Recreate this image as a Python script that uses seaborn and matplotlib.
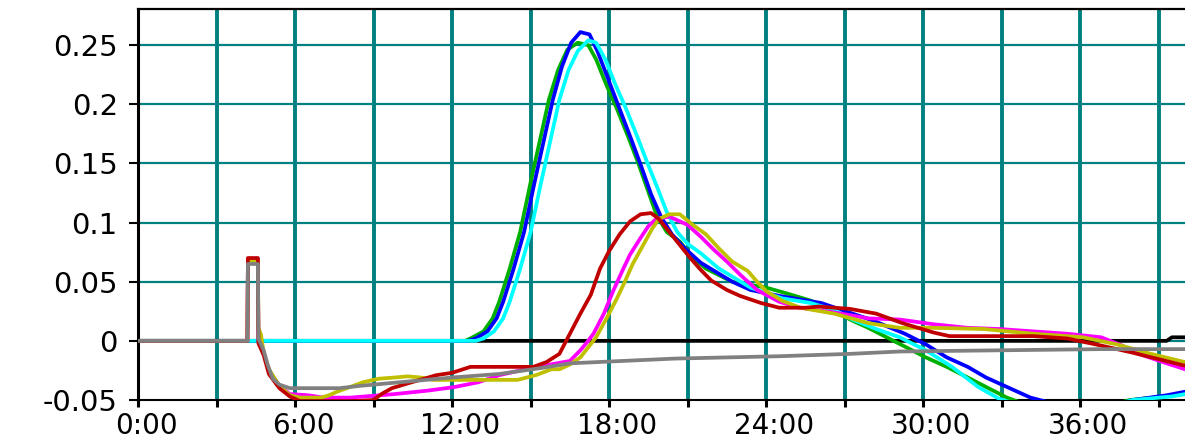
import matplotlib
matplotlib.use("Agg")
import matplotlib.pyplot as plt
import matplotlib.transforms as mtransforms
import seaborn as sns

# time in hours
black_t = [0, 39.3, 39.5, 40]
black_v = [0, 0, 0.003, 0.003]

green_t = [0, 12.5, 12.7, 13.2, 13.55, 13.8, 14.2, 14.6, 15.0, 15.4, 15.7, 16.05, 16.4, 16.8,
           17.2, 17.5, 17.9, 18.3, 18.7, 19.1, 19.45, 19.8, 20.2, 20.7, 21.2, 21.7, 22.7, 24.0,
           24.8, 25.7, 26.6, 27.3, 27.9, 28.6, 29.4, 30.1, 30.9, 31.7, 32.4, 33.2, 33.7, 35.0,
           36.5, 37.9, 39.2, 40]
green_v = [0, 0, 0.002, 0.008, 0.019, 0.033, 0.061, 0.092, 0.134, 0.174, 0.204, 0.229, 0.246, 0.252,
           0.250, 0.238, 0.216, 0.196, 0.174, 0.151, 0.129, 0.107, 0.092, 0.084, 0.070, 0.061, 0.050, 0.045,
           0.040, 0.034, 0.025, 0.017, 0.011, 0.003, -0.006, -0.014, -0.022, -0.031, -0.039, -0.048, -0.052, -0.060,
           -0.058, -0.050, -0.047, -0.045]

blue_t = [0, 12.6, 12.9, 13.35, 13.7, 13.95, 14.35, 14.75, 15.15, 15.55, 15.85, 16.2, 16.55, 16.9,
          17.25, 17.55, 17.95, 18.4, 18.85, 19.25, 19.6, 20.0, 20.4, 20.9, 21.5, 22.7, 23.4, 24.5,
          26.1, 28.1, 29.3, 30.1, 30.9, 31.7, 32.4, 33.2, 34.1, 34.8, 36.5, 38.0, 39.3, 40]
blue_v = [0, 0, 0.002, 0.008, 0.019, 0.033, 0.061, 0.092, 0.134, 0.174, 0.204, 0.232, 0.252, 0.261,
          0.259, 0.245, 0.222, 0.196, 0.170, 0.146, 0.124, 0.104, 0.090, 0.078, 0.066, 0.050, 0.043, 0.038,
          0.032, 0.017, 0.006, -0.003, -0.014, -0.022, -0.031, -0.039, -0.048, -0.052, -0.060, -0.050, -0.046, -0.043]

cyan_t = [0, 12.9, 13.2, 13.6, 13.95, 14.2, 14.6, 15.0, 15.4, 15.8, 16.1, 16.45, 16.8, 17.2,
          17.5, 17.85, 18.25, 18.65, 19.05, 19.45, 19.85, 20.2, 20.6, 21.0, 21.5, 22.2, 23.4, 24.6,
          25.7, 26.6, 27.3, 28.2, 29.1, 30.1, 31.1, 32.1, 32.9, 33.5, 35.0, 36.5, 38.0, 39.5, 40]
cyan_v = [0, 0, 0.002, 0.008, 0.019, 0.033, 0.061, 0.092, 0.134, 0.174, 0.204, 0.229, 0.245, 0.254,
          0.252, 0.238, 0.216, 0.196, 0.174, 0.151, 0.129, 0.109, 0.092, 0.082, 0.074, 0.061, 0.045, 0.036,
          0.032, 0.026, 0.018, 0.010, 0.003, -0.008, -0.022, -0.039, -0.049, -0.053, -0.062, -0.060, -0.050, -0.047, -0.045]

magenta_t = [0, 4.18, 4.2, 4.58, 4.6, 4.8, 5.0, 5.4, 5.8, 6.5, 7.1, 8.1, 9.8, 11.1, 12.1, 13.0, 13.8,
             15.0, 16.5, 16.9, 17.2, 17.4, 17.8, 18.15, 18.5, 18.8, 19.2, 19.5, 19.8, 20.3, 21.0, 21.5,
             22.0, 22.5, 23.0, 23.65, 24.5, 25.3, 26.6, 27.9, 29.1, 30.4, 31.7, 32.9, 34.2, 35.5, 36.8,
             37.6, 38.1, 39.3, 40]
magenta_v = [0, 0, 0.069, 0.069, 0, -0.010, -0.025, -0.038, -0.045, -0.046, -0.048, -0.048, -0.045, -0.042,
             -0.039, -0.035, -0.029, -0.023, -0.017, -0.008, 0.0, 0.006, 0.023, 0.042, 0.059, 0.073, 0.087,
             0.097, 0.103, 0.105, 0.098, 0.088, 0.077, 0.067, 0.056, 0.043, 0.033, 0.028, 0.024, 0.019, 0.018,
             0.014, 0.011, 0.010, 0.008, 0.006, 0.003, -0.004, -0.010, -0.019, -0.024]

yellow_t = [0, 4.18, 4.2, 4.58, 4.6, 4.7, 4.8, 5.0, 5.4, 5.8, 6.2, 7.0, 7.3, 7.6, 8.1, 8.6, 9.2, 9.8,
            10.3, 10.8, 11.3, 14.5, 15.2, 15.8, 16.1, 16.5, 16.9, 17.5, 17.9, 18.3, 18.6, 18.9, 19.3,
            19.65, 19.9, 20.3, 20.7, 21.2, 21.7, 22.2, 22.7, 23.3, 23.65, 24.0, 24.6, 25.3, 26.6, 27.9,
            29.1, 30.4, 32.3, 34.2, 36.1, 37.4, 38.7, 40]
yellow_v = [0, 0, 0.068, 0.068, 0.011, 0.005, -0.010, -0.024, -0.038, -0.046, -0.048, -0.048, -0.046, -0.043,
            -0.039, -0.035, -0.032, -0.031, -0.030, -0.031, -0.033, -0.033, -0.029, -0.024, -0.024, -0.020,
            -0.014, 0.003, 0.019, 0.036, 0.050, 0.065, 0.081, 0.095, 0.103, 0.107, 0.107, 0.098, 0.090, 0.078,
            0.067, 0.059, 0.050, 0.042, 0.034, 0.028, 0.023, 0.015, 0.011, 0.011, 0.010, 0.006, 0.003, -0.003,
            -0.011, -0.018]

red_t = [0, 4.18, 4.2, 4.58, 4.6, 4.8, 5.0, 5.4, 5.8, 6.2, 8.2, 9.0, 9.3, 9.7, 10.3, 11.4, 12.0, 12.7,
         15.1, 15.6, 16.1, 16.5, 16.9, 17.3, 17.65, 18.0, 18.4, 18.8, 19.2, 19.6, 19.9, 20.3, 20.7, 21.1,
         21.5, 21.9, 22.5, 23.0, 23.8, 24.5, 25.5, 26.0, 27.2, 28.2, 29.2, 30.4, 31.0, 34.2, 35.5, 36.8,
         38.0, 40]
red_v = [0, 0, 0.070, 0.070, -0.002, -0.012, -0.028, -0.040, -0.047, -0.051, -0.051, -0.050, -0.045, -0.040,
         -0.036, -0.029, -0.027, -0.022, -0.022, -0.018, -0.011, 0.006, 0.023, 0.039, 0.061, 0.076, 0.090,
         0.101, 0.107, 0.108, 0.103, 0.092, 0.081, 0.070, 0.060, 0.051, 0.043, 0.038, 0.032, 0.028, 0.028,
         0.029, 0.027, 0.023, 0.015, 0.007, 0.004, 0.004, 0.002, -0.004, -0.010, -0.021]

gray_t = [0, 4.18, 4.2, 4.58, 4.6, 4.8, 4.95, 5.15, 5.4, 5.8, 7.7, 8.5, 10.0, 12.0, 13.8, 15.4, 16.5,
          18.5, 20.5, 22.5, 24.5, 27.2, 29.1, 32.9, 36.8, 40]
gray_v = [0, 0, 0.065, 0.065, 0.002, -0.008, -0.020, -0.032, -0.037, -0.040, -0.040, -0.038, -0.035, -0.031,
          -0.028, -0.023, -0.019, -0.017, -0.015, -0.014, -0.013, -0.011, -0.009, -0.008, -0.007, -0.007]

y_ticks = [-0.05, 0, 0.05, 0.1, 0.15, 0.2, 0.25]
y_labels = ["-0.05", "0", "0.05", "0.1", "0.15", "0.2", "0.25"]
x_ticks = list(range(0, 40, 3))
x_labels = [f"{h}:00" if h % 6 == 0 else "" for h in x_ticks]

sns.set_style("white")
plt.rcParams["font.family"] = ["DejaVu Sans"]

W, H = 1185, 442
fig = plt.figure(figsize=(W / 100, H / 100), dpi=100)
ax = fig.add_axes([138 / W, 1 - 400 / H, 1 - 138 / W, (400 - 9) / H])

series = [
    (black_t, black_v, "#000000"),
    (green_t, green_v, "#00b000"),
    (blue_t, blue_v, "#0000ff"),
    (cyan_t, cyan_v, "#00ffff"),
    (magenta_t, magenta_v, "#ff00ff"),
    (yellow_t, yellow_v, "#c0c000"),
    (red_t, red_v, "#c00000"),
    (gray_t, gray_v, "#808080"),
]
for t, v, c in series:
    sns.lineplot(x=t, y=v, ax=ax, color=c, linewidth=2.7, estimator=None, sort=False,
                 legend=False, zorder=3)

ax.set_xlim(0, 40)
ax.set_ylim(-0.05, 0.2805)

# teal grid, vertical lines heavier than horizontal
for h in x_ticks[1:]:
    ax.axvline(h, color="#008080", linewidth=2.8, zorder=1)
for y in y_ticks[1:]:
    ax.axhline(y, color="#008080", linewidth=1.6, zorder=1)

ax.set_xticks(x_ticks)
ax.set_xticklabels(x_labels)
ax.set_yticks(y_ticks)
ax.set_yticklabels(y_labels)
ax.set_xlabel("")
ax.set_ylabel("")

ax.tick_params(axis="y", direction="out", length=6.5, width=1.5, pad=8, labelsize=21,
               left=True, colors="black")
ax.tick_params(axis="x", direction="out", length=5, width=2.2, pad=4, labelsize=20,
               bottom=True, colors="black")

offset = mtransforms.ScaledTranslation(8 / 100, 0, fig.dpi_scale_trans)
for lab in ax.get_xticklabels():
    lab.set_transform(lab.get_transform() + offset)

for side in ["left", "top", "bottom"]:
    ax.spines[side].set_visible(True)
    ax.spines[side].set_color("black")
ax.spines["left"].set_linewidth(2.2)
ax.spines["top"].set_linewidth(1.6)
ax.spines["bottom"].set_linewidth(1.5)
ax.spines["right"].set_visible(False)

fig.savefig("out.png", dpi=100)
plt.close(fig)
